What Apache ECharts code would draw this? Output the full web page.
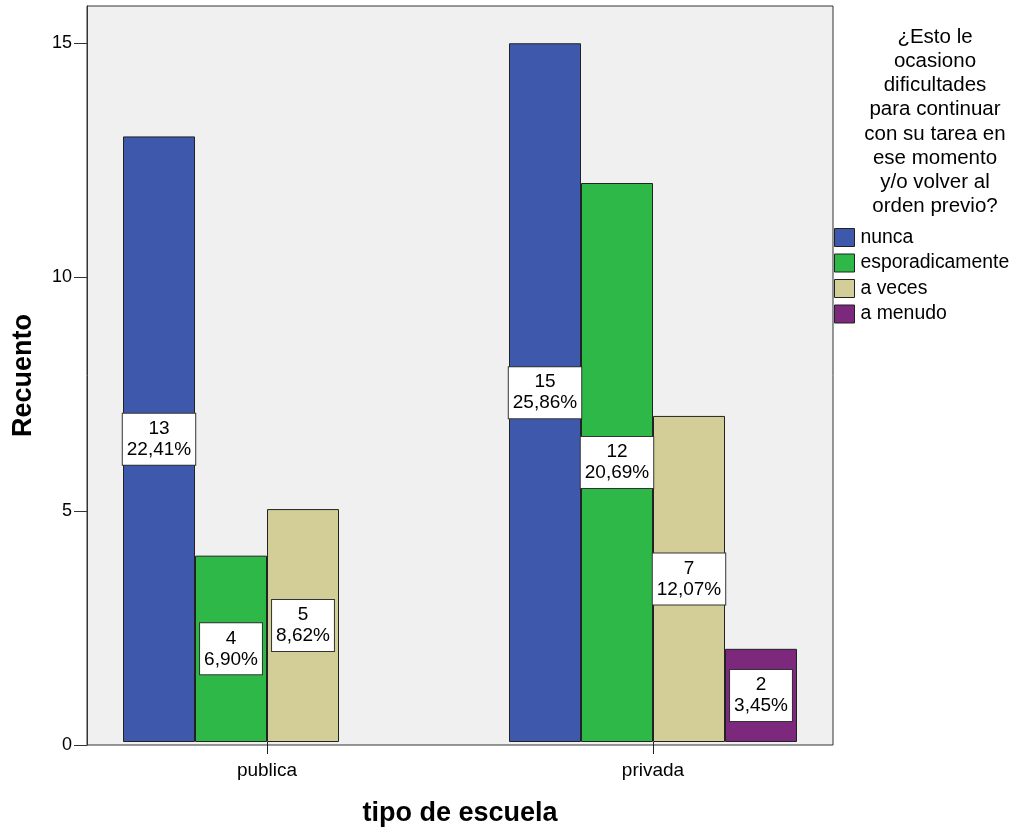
<!DOCTYPE html>
<html>
<head>
<meta charset="utf-8">
<script src="https://cdn.jsdelivr.net/npm/echarts@6/dist/echarts.min.js"></script>
<style>html,body{margin:0;padding:0;background:#fff}#c{width:1020px;height:832px}</style>
</head>
<body>
<div id="c"></div>
<script>
const categories = ['publica', 'privada'];
const seriesNames = ['nunca', 'esporadicamente', 'a veces', 'a menudo'];
const nunca = [13, 15];
const esporadicamente = [4, 12];
const aVeces = [5, 7];
const aMenudo = ['-', 2];
const percentLabels = {
  'nunca': ['22,41%', '25,86%'],
  'esporadicamente': ['6,90%', '20,69%'],
  'a veces': ['8,62%', '12,07%'],
  'a menudo': ['', '3,45%']
};
const yTicks = [0, 5, 10, 15];
const colors = ['#3E58AC', '#2EB848', '#D3CE97', '#7B287D'];
const legendTitle = '¿Esto le\nocasiono\ndificultades\npara continuar\ncon su tarea en\nese momento\ny/o volver al\norden previo?';

const values = [nunca, esporadicamente, aVeces, aMenudo];
const FONT = '"Liberation Sans", Arial, sans-serif';

const chart = echarts.init(document.getElementById('c'), null, {renderer: 'canvas'});
const series = seriesNames.map((name, i) => ({
  name: name,
  type: 'bar',
  xAxisIndex: 1,
  yAxisIndex: 1,
  data: values[i],
  barWidth: 72,
  barGap: '0%',
  itemStyle: {color: colors[i], borderColor: '#222', borderWidth: 1},
  label: {
    show: true,
    position: 'inside',
    formatter: p => p.value + '\n' + percentLabels[name][p.dataIndex],
    fontFamily: FONT,
    fontSize: 19,
    lineHeight: 21,
    color: '#000',
    backgroundColor: '#fff',
    borderColor: '#333',
    borderWidth: 1,
    padding: [5, 4, 4, 4]
  }
}));

chart.setOption({
  animation: false,
  textStyle: {fontFamily: FONT},
  grid: [
    {left: 87, top: 6, width: 746, height: 739, show: true, backgroundColor: '#F0F0F0', borderColor: '#333', borderWidth: 1, z: 0},
    {left: 74, top: 6, width: 772, height: 739}
  ],
  xAxis: [
    {gridIndex: 0, type: 'value', show: false, min: 0, max: 1},
    {gridIndex: 1, type: 'category', data: categories,
     axisLine: {show: false},
     axisTick: {show: true, alignWithLabel: true, length: 12, lineStyle: {color: '#222'}},
     axisLabel: {fontSize: 19, color: '#000', margin: 19, fontFamily: FONT},
     name: 'tipo de escuela', nameLocation: 'middle', nameGap: 58,
     nameTextStyle: {fontSize: 27, fontWeight: 'bold', color: '#000', fontFamily: FONT}
    }
  ],
  yAxis: [
    {gridIndex: 0, type: 'value', min: 0, max: 15.8,
     axisLine: {show: true, lineStyle: {color: '#333'}},
     axisTick: {show: true, length: 13, lineStyle: {color: '#333'}, customValues: yTicks},
     axisLabel: {fontSize: 18, color: '#000', margin: 15, fontFamily: FONT, customValues: yTicks},
     splitLine: {show: false},
     name: 'Recuento', nameLocation: 'middle', nameGap: 50,
     nameTextStyle: {fontSize: 27, fontWeight: 'bold', color: '#000', fontFamily: FONT}
    },
    {gridIndex: 1, type: 'value', min: 0, max: 15.8, show: false}
  ],
  legend: {
    orient: 'vertical',
    left: 834, top: 228, padding: 0,
    itemWidth: 20, itemHeight: 18, itemGap: 6.5,
    icon: 'rect',
    data: seriesNames,
    itemStyle: {borderColor: '#222', borderWidth: 1},
    textStyle: {fontSize: 19.4, color: '#000', fontFamily: FONT, padding: [0, 0, 0, 1]}
  },
  graphic: [{
    type: 'text', z: 100, x: 935, y: 25,
    style: {text: legendTitle, textAlign: 'center', fill: '#000', font: '20.5px ' + FONT, lineHeight: 24.2}
  }],
  series: series
});
</script>
</body>
</html>
